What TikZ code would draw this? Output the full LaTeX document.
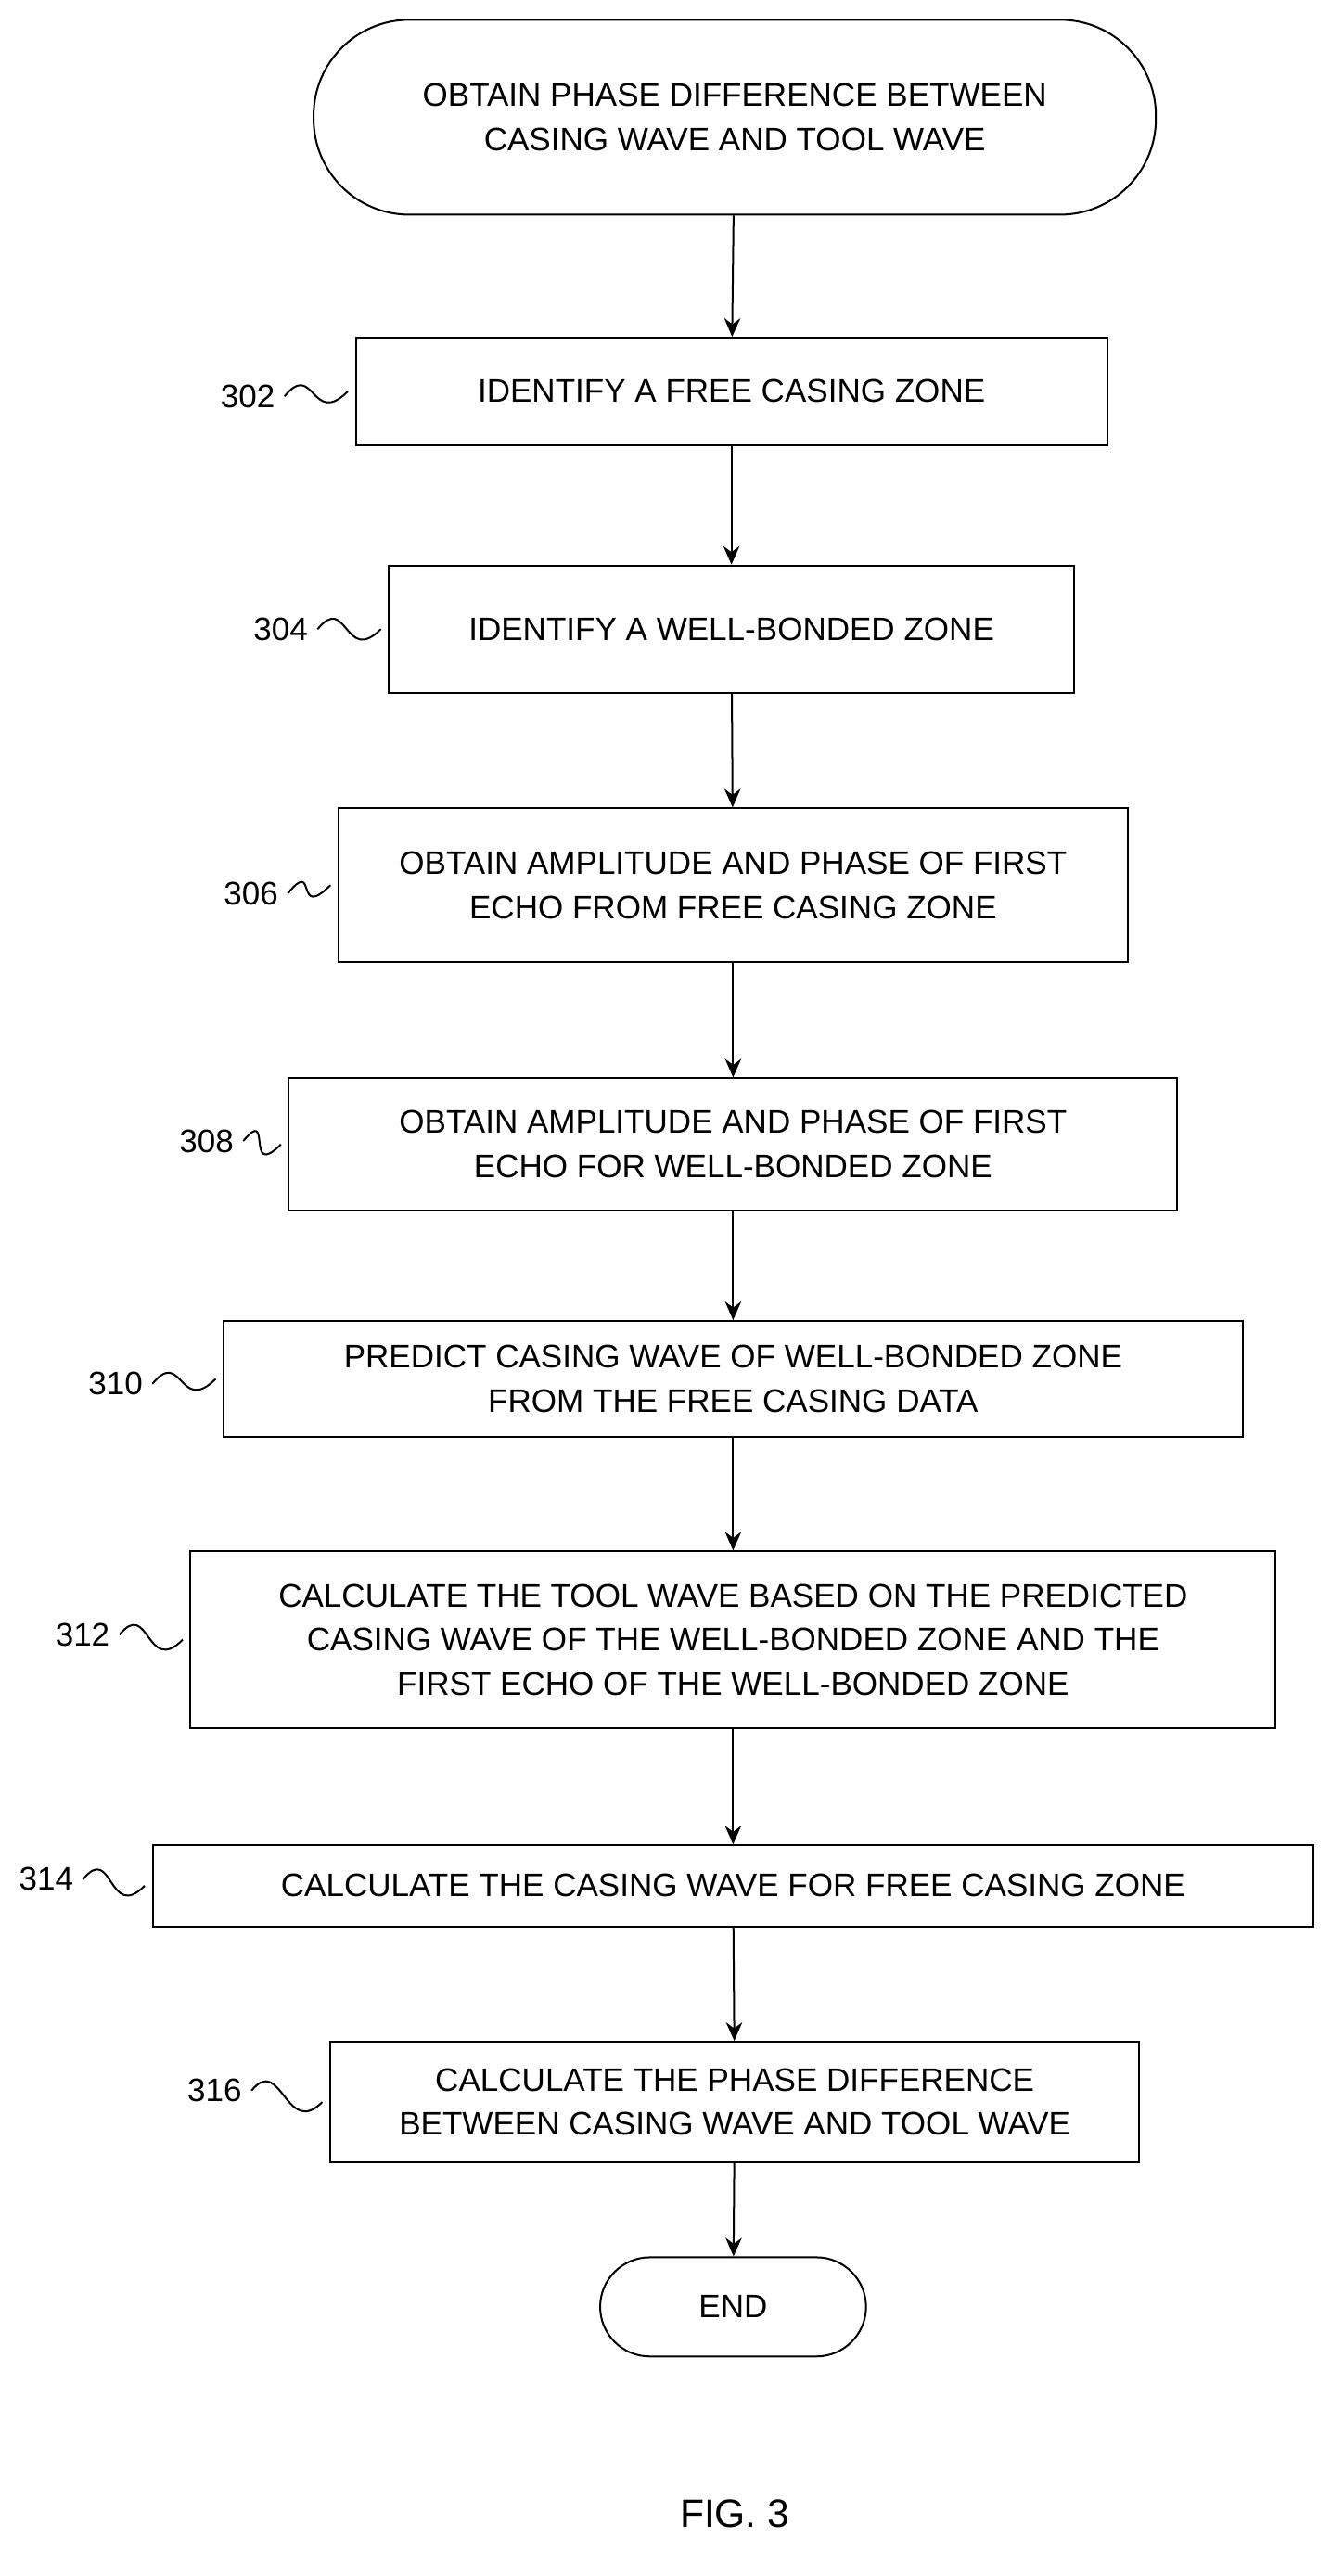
\documentclass[tikz,border=0pt]{standalone}
\usepackage{fontspec}
\setmainfont{Liberation Sans}
\usetikzlibrary{arrows.meta}
\begin{document}
\begin{tikzpicture}[x=0.025cm,y=-0.025cm,
    every node/.style={font=\fontsize{14}{19}\selectfont},
    box/.style={draw,thick,align=center,inner sep=2pt},
    term/.style={box,rounded corners=28pt},
    flow/.style={thick,-{Stealth[length=8pt,width=7pt]}},
    squig/.style={thick},
    lbl/.style={inner sep=4pt}]
    % frame
    \useasboundingbox (0,0) rectangle (806,1560);
    % steps
    \node[term,minimum width=12.75cm,minimum height=2.95cm,rounded corners=1.45cm] (start) at (445,71) {OBTAIN PHASE DIFFERENCE BETWEEN\\CASING WAVE AND TOOL WAVE};
    \node[box,minimum width=11.375cm,minimum height=1.625cm] (n302) at (443,237) {IDENTIFY A FREE CASING ZONE};
    \node[box,minimum width=10.375cm,minimum height=1.925cm] (n304) at (443,381) {IDENTIFY A WELL-BONDED ZONE};
    \node[box,minimum width=11.95cm,minimum height=2.325cm] (n306) at (444,536) {OBTAIN AMPLITUDE AND PHASE OF FIRST\\ECHO FROM FREE CASING ZONE};
    \node[box,minimum width=13.45cm,minimum height=2cm] (n308) at (444,693) {OBTAIN AMPLITUDE AND PHASE OF FIRST\\ECHO FOR WELL-BONDED ZONE};
    \node[box,minimum width=15.425cm,minimum height=1.75cm] (n310) at (444,835) {PREDICT CASING WAVE OF WELL-BONDED ZONE\\FROM THE FREE CASING DATA};
    \node[box,minimum width=16.425cm,minimum height=2.675cm] (n312) at (444,993) {CALCULATE THE TOOL WAVE BASED ON THE PREDICTED\\CASING WAVE OF THE WELL-BONDED ZONE AND THE\\FIRST ECHO OF THE WELL-BONDED ZONE};
    \node[box,minimum width=17.575cm,minimum height=1.225cm] (n314) at (444,1142) {CALCULATE THE CASING WAVE FOR FREE CASING ZONE};
    \node[box,minimum width=12.25cm,minimum height=1.825cm] (n316) at (445,1273) {CALCULATE THE PHASE DIFFERENCE\\BETWEEN CASING WAVE AND TOOL WAVE};
    \node[box,minimum width=4.025cm,minimum height=1.5cm,rounded corners=0.75cm] (end) at (444,1397) {END};
    % arrows
    \foreach \a/\b in {start/n302,n302/n304,n304/n306,n306/n308,n308/n310,n310/n312,n312/n314,n314/n316,n316/end}
        \draw[flow] (\a) -- (\b);
    % reference labels
    \foreach \n/\x/\y in {302/150/240,304/170/381,306/152/541,308/125/691,310/70/838,312/50/990,314/28/1138,316/130/1266}
    {
        \node[lbl] (l\n) at (\x,\y) {\n};
        \draw[squig] (l\n.east) .. controls +(18,-22) and +(-22,22) .. ([xshift=-3pt]n\n.west);
    }
    \node (fig) at (445,1522) {\fontsize{17}{20}\selectfont FIG. 3};
\end{tikzpicture}
\end{document}
